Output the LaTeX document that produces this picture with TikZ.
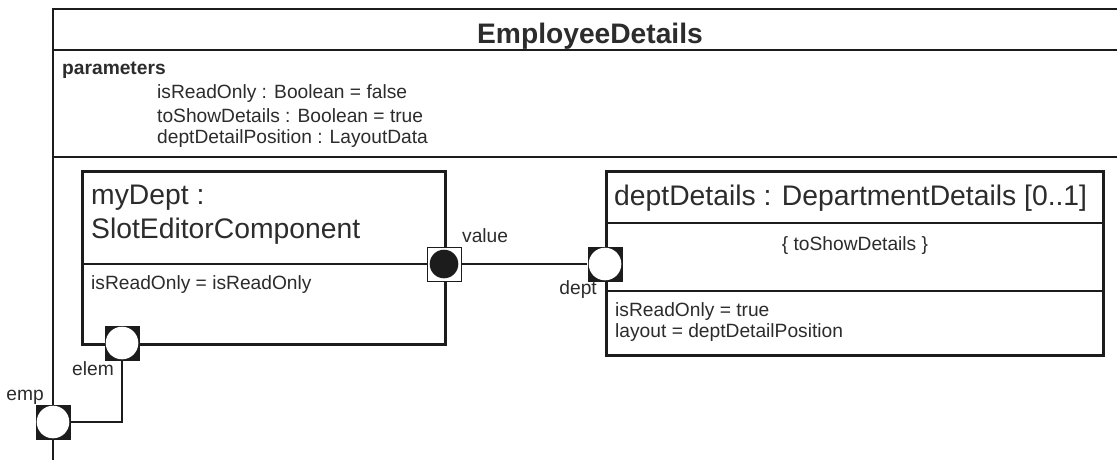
\documentclass[tikz,border=0pt]{standalone}
\usepackage{fontspec}
\setmainfont{Liberation Sans}
\definecolor{ink}{HTML}{1C1C1C}
\definecolor{txt}{HTML}{2C2C2C}
\begin{document}
\begin{tikzpicture}[x=1pt,y=-1pt,
  frameline/.style={line width=2.6pt, draw=ink},
  sepline/.style={line width=1.3pt, draw=ink},
  umlbox/.style={rectangle, draw=ink, line width=2.6pt, fill=white, inner sep=0pt},
  conn/.style={line width=2.6pt, draw=ink},
  small/.style={font=\fontsize{19.2}{23}\selectfont, text=txt, inner sep=0pt},
  smallbold/.style={font=\fontsize{19.2}{23}\selectfont\bfseries, text=txt, inner sep=0pt},
  big/.style={font=\fontsize{28.3}{34}\selectfont, text=txt, inner sep=0pt},
  bigbold/.style={font=\fontsize{28.2}{34}\selectfont\bfseries, text=txt, inner sep=0pt},
  portopen/.style={rectangle, fill=ink, minimum size=35pt, inner sep=0pt,
    path picture={\fill[white] (path picture bounding box.center) circle (16.3pt);}},
  portfilled/.style={rectangle, draw=ink, line width=0.9pt, fill=white, minimum size=34pt, inner sep=0pt,
    path picture={\fill[ink] (path picture bounding box.center) circle (14.3pt);}}
]
\useasboundingbox (0,0) rectangle (1117,459);
\fill[white] (0,0) rectangle (1117,459);

% outer frame
\draw[frameline] (53,470) -- (53,9) -- (1125,9);
\draw[sepline] (53,50) -- (1125,50);
\draw[sepline] (53,157) -- (1125,157);

\node[bigbold, anchor=base] (title) at (590,43) {EmployeeDetails};
\node[smallbold, anchor=base west] (params) at (62,74) {parameters};
\node[small, anchor=base west] (p1) at (157,98) {isReadOnly : Boolean = false};
\node[small, anchor=base west] (p2) at (157,122) {toShowDetails : Boolean = true};
\node[small, anchor=base west] (p3) at (157,143) {deptDetailPosition : LayoutData};

% myDept part
\node[umlbox, anchor=north west, minimum width=363pt, minimum height=173pt] (mydept) at (81,170) {};
\draw[sepline] (81,264) -- (444,264);
\node[big, anchor=base west] (md1) at (91,204) {myDept :};
\node[big, anchor=base west] (md2) at (91,238) {SlotEditorComponent};
\node[small, anchor=base west] (md3) at (91,289) {isReadOnly = isReadOnly};

% deptDetails part
\node[umlbox, anchor=north west, minimum width=497pt, minimum height=184pt] (deptdetails) at (605,170) {};
\draw[sepline] (605,223) -- (1102,223);
\draw[sepline] (605,291) -- (1102,291);
\node[big, anchor=base west] (dd1) at (614,205) {deptDetails : DepartmentDetails [0..1]};
\node[small, anchor=base] (dd2) at (855,250) {\{ toShowDetails \}};
\node[small, anchor=base west] (dd3) at (615,316) {isReadOnly = true};
\node[small, anchor=base west] (dd4) at (615,337) {layout = deptDetailPosition};

% ports
\node[portfilled] (value) at (444,264) {};
\node[portopen] (dept) at (605,264) {};
\node[portopen] (elem) at (122,343) {};
\node[portopen] (emp) at (53,422) {};

% connectors
\draw[conn] (value) -- (dept);
\draw[conn] (elem) |- (emp);

% port labels
\node[small, anchor=base west] (valuelbl) at (462,242) {value};
\node[small, anchor=base east] (deptlbl) at (597,294) {dept};
\node[small, anchor=base east] (elemlbl) at (114,375) {elem};
\node[small, anchor=base east] (emplbl) at (44,400) {emp};
\end{tikzpicture}
\end{document}
